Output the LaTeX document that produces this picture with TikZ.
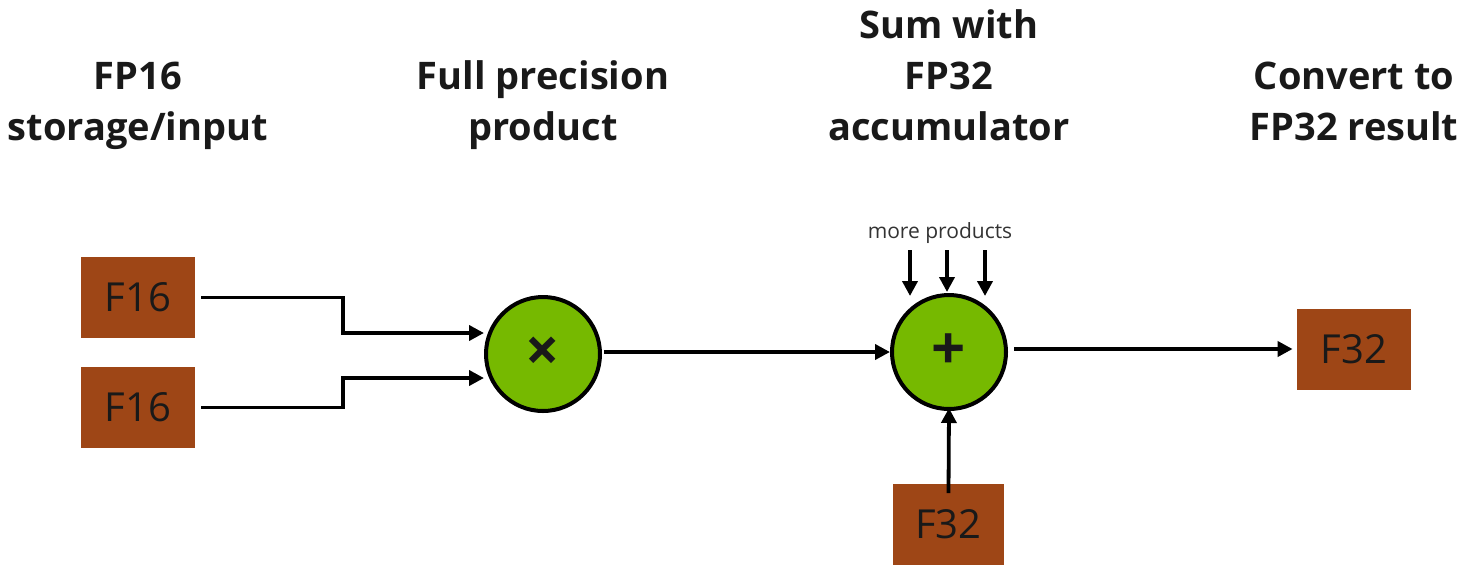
\documentclass[tikz,border=0pt]{standalone}
\usepackage{fontspec}
\setmainfont{Open Sans}
\usetikzlibrary{arrows.meta}
\definecolor{boxbrown}{RGB}{158,70,22}
\definecolor{nvgreen}{RGB}{118,185,0}
\begin{document}
\begin{tikzpicture}[x=0.5pt,y=-0.5pt,
  heading/.style={font=\fontsize{19}{25.5}\selectfont\bfseries, align=center, text=black!90, inner sep=0pt},
  regbox/.style={fill=boxbrown, minimum width=57pt, minimum height=40.5pt, inner sep=0pt, font=\fontsize{20}{24}\selectfont, text=black!90},
  opnode/.style={circle, draw=black, line width=2pt, fill=nvgreen, minimum size=57pt, inner sep=0pt, font=\fontsize{30}{30}\selectfont\bfseries, text=black!90},
  conn/.style={line width=1.9pt, -{Triangle[length=7.5pt,width=7.5pt]}},
  small/.style={font=\fontsize{10.5}{12}\selectfont, text=black!80, inner sep=0pt}
]
\useasboundingbox (0,0) rectangle (1467,564);

% headings
\node[heading, anchor=base] (h1) at (138,140) {FP16\\storage/input};
\node[heading, anchor=base] (h2) at (543,140) {Full precision\\product};
\node[heading, anchor=base] (h3) at (949,140) {Sum with\\FP32\\accumulator};
\node[heading, anchor=base] (h4) at (1354,140) {Convert to\\FP32 result};

% boxes
\node[regbox] (a) at (138,297.5) {F16};
\node[regbox] (b) at (138,407.5) {F16};
\node[opnode] (mul) at (543,354) {×};
\node[opnode] (add) at (949,352) {+};
\node[regbox] (res) at (1354,349) {F32};
\node[regbox, minimum width=55.5pt] (acc) at (948.5,524) {F32};

% more products
\node[small] (mp) at (940,233) {more products};
\coordinate (m1s) at (910,250);
\coordinate (m2s) at (947,250);
\coordinate (m3s) at (985,250);
\coordinate (m1e) at (910,296);
\coordinate (m2e) at (947,292);
\coordinate (m3e) at (985,296);
\draw[conn] (m1s) -- (m1e);
\draw[conn] (m2s) -- (m2e);
\draw[conn] (m3s) -- (m3e);

% connectors
\coordinate (ta) at ([xshift=3pt]a.east);
\coordinate (tb) at ([xshift=3pt]b.east);
\draw[conn] (ta) -| (343,333) -- (mul.west |- 0,333);
\draw[conn] (tb) -| (343,378) -- (mul.west |- 0,378);
\draw[conn] ([xshift=1pt]mul.east |- add.west) -- (add.west);
\draw[conn] ([xshift=3pt]add.east |- res.west) -- ([xshift=-2pt]res.west);
\draw[conn] ([yshift=-5pt]acc.north) -- ([yshift=1.5pt]add.south);
\end{tikzpicture}
\end{document}
